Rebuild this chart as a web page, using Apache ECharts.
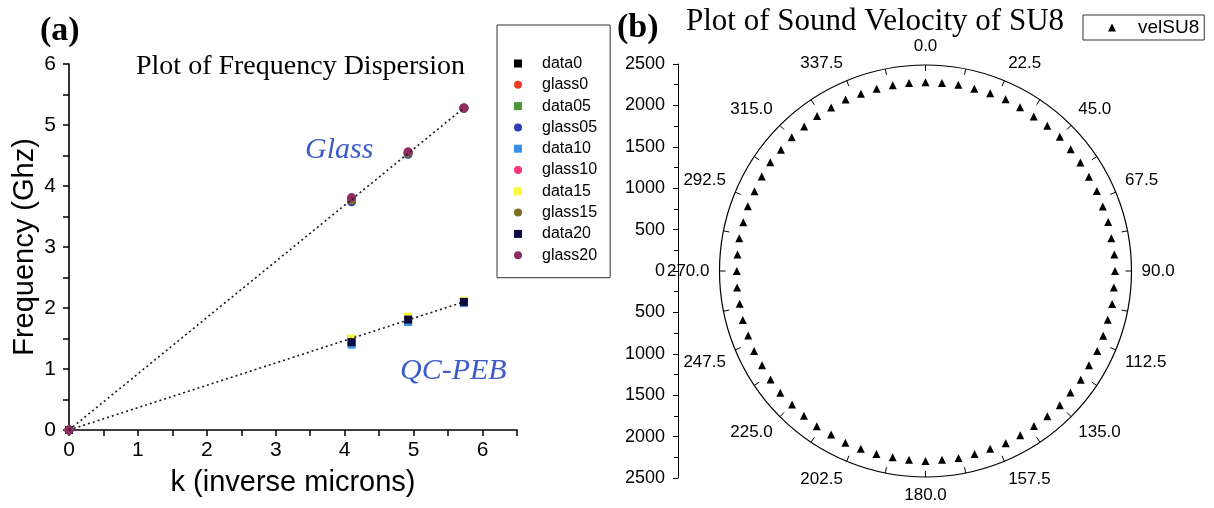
<!DOCTYPE html>
<html>
<head>
<meta charset="utf-8">
<script src="https://cdn.jsdelivr.net/npm/echarts@6/dist/echarts.min.js"></script>
<style>
  html, body { margin: 0; padding: 0; background: #ffffff; }
  #chart { width: 1214px; height: 508px; }
</style>
</head>
<body>
<div id="chart"></div>
<script>
// ---- (a) frequency dispersion: wavenumber k (1/um) vs frequency (GHz) ----
const k = [0, 4.1, 4.92, 5.73];

const data0  = [0, 1.44, 1.81, 2.10];
const data05 = [0, 1.49, 1.83, 2.11];
const data10 = [0, 1.40, 1.77, 2.08];
const data15 = [0, 1.50, 1.86, 2.12];
const data20 = [0, 1.44, 1.81, 2.10];

const glass0  = [0, 3.79, 4.55, 5.28];
const glass05 = [0, 3.74, 4.52, 5.27];
const glass10 = [0, 3.78, 4.55, 5.28];
const glass15 = [0, 3.77, 4.54, 5.28];
const glass20 = [0, 3.81, 4.56, 5.28];

// linear fits through the origin
const fitK = [0, 5.73];
const glassFit = [0, 5.28];
const qcFit = [0, 2.10];

const xTicks = [0, 1, 2, 3, 4, 5, 6];
const yTicks = [0, 1, 2, 3, 4, 5, 6];

// ---- (b) sound velocity of SU8 vs propagation angle (deg) ----
const angles = [
  0, 5, 10, 15, 20, 25, 30, 35, 40, 45, 50, 55,
  60, 65, 70, 75, 80, 85, 90, 95, 100, 105, 110, 115,
  120, 125, 130, 135, 140, 145, 150, 155, 160, 165, 170, 175,
  180, 185, 190, 195, 200, 205, 210, 215, 220, 225, 230, 235,
  240, 245, 250, 255, 260, 265, 270, 275, 280, 285, 290, 295,
  300, 305, 310, 315, 320, 325, 330, 335, 340, 345, 350, 355
];
const velSU8 = [
  2290, 2290, 2295, 2290, 2295, 2300, 2295, 2290, 2300, 2305, 2300, 2295,
  2290, 2295, 2290, 2295, 2290, 2300, 2300, 2295, 2300, 2290, 2295, 2300,
  2290, 2300, 2295, 2305, 2300, 2295, 2300, 2305, 2295, 2300, 2305, 2300,
  2305, 2300, 2295, 2300, 2295, 2300, 2290, 2300, 2295, 2290, 2300, 2295,
  2290, 2295, 2290, 2295, 2290, 2295, 2290, 2290, 2295, 2290, 2295, 2290,
  2295, 2300, 2290, 2295, 2290, 2295, 2290, 2295, 2290, 2290, 2290, 2290
];
const angleLabels = ['0.0', '22.5', '45.0', '67.5', '90.0', '112.5', '135.0', '157.5',
                     '180.0', '202.5', '225.0', '247.5', '270.0', '292.5', '315.0', '337.5'];

const SANS = '"Liberation Sans", Arial, sans-serif';
const SERIF = '"Liberation Serif", "Times New Roman", serif';

const pointSeries = [
  { name: 'data0',   v: data0,   color: '#000000', symbol: 'rect' },
  { name: 'glass0',  v: glass0,  color: '#f03a22', symbol: 'circle' },
  { name: 'data05',  v: data05,  color: '#4a9a3a', symbol: 'rect' },
  { name: 'glass05', v: glass05, color: '#2e3db4', symbol: 'circle' },
  { name: 'data10',  v: data10,  color: '#3a90e6', symbol: 'rect' },
  { name: 'glass10', v: glass10, color: '#fa3478', symbol: 'circle' },
  { name: 'data15',  v: data15,  color: '#f8f83a', symbol: 'rect' },
  { name: 'glass15', v: glass15, color: '#7c6e22', symbol: 'circle' },
  { name: 'data20',  v: data20,  color: '#0c0c44', symbol: 'rect' },
  { name: 'glass20', v: glass20, color: '#8e2e60', symbol: 'circle' }
];

const zip = (xs, ys) => xs.map((x, i) => [x, ys[i]]);

const series = pointSeries.map(s => ({
  name: s.name,
  type: 'scatter',
  xAxisIndex: 0,
  yAxisIndex: 0,
  symbol: s.symbol,
  symbolSize: s.symbol === 'rect' ? 8 : 9,
  itemStyle: { color: s.color, opacity: 1 },
  data: zip(k, s.v),
  z: 2
}));

[glassFit, qcFit].forEach(fit => {
  series.push({
    type: 'line',
    xAxisIndex: 0,
    yAxisIndex: 0,
    symbol: 'none',
    silent: true,
    lineStyle: { color: '#1a1a1a', width: 1.6, type: [2, 3] },
    data: zip(fitK, fit),
    z: 3
  });
});

series.push({
  name: 'velSU8',
  type: 'scatter',
  coordinateSystem: 'polar',
  symbol: 'triangle',
  symbolSize: 8,
  itemStyle: { color: '#000000', opacity: 1 },
  data: velSU8.map((v, i) => [v, angles[i]])
});

const axisBlack = { lineStyle: { color: '#000', width: 1.6 } };

const option = {
  animation: false,
  backgroundColor: '#ffffff',
  grid: [
    { left: 69, top: 64, width: 448, height: 366 },
    { left: 678, top: 64, width: 1, height: 414 }
  ],
  xAxis: [
    {
      gridIndex: 0, type: 'value', min: 0, max: 6.5, interval: 0.5,
      axisLine: axisBlack,
      axisTick: { length: 6, lineStyle: { color: '#000', width: 1.5 } },
      axisLabel: {
        margin: 10, color: '#000', fontFamily: SANS, fontSize: 21,
        formatter: v => (xTicks.indexOf(v) >= 0 ? String(v) : '')
      },
      splitLine: { show: false },
      name: 'k (inverse microns)', nameLocation: 'middle', nameGap: 38,
      nameTextStyle: { color: '#000', fontFamily: SANS, fontSize: 29 }
    },
    { gridIndex: 1, type: 'value', show: false }
  ],
  yAxis: [
    {
      gridIndex: 0, type: 'value', min: 0, max: 6, interval: 0.5,
      axisLine: axisBlack,
      axisTick: { length: 6, lineStyle: { color: '#000', width: 1.5 } },
      axisLabel: {
        margin: 13, color: '#000', fontFamily: SANS, fontSize: 21,
        formatter: v => (yTicks.indexOf(v) >= 0 ? String(v) : '')
      },
      splitLine: { show: false },
      name: 'Frequency (Ghz)', nameLocation: 'middle', nameGap: 30,
      nameTextStyle: { color: '#000', fontFamily: SANS, fontSize: 29 }
    },
    {
      // radial scale of the polar plot, drawn as a vertical ruler
      gridIndex: 1, type: 'value', min: -2500, max: 2500, interval: 500,
      axisLine: { lineStyle: { color: '#000', width: 1 } },
      axisTick: { length: 5, lineStyle: { color: '#000', width: 1 } },
      minorTick: { show: true, splitNumber: 2, length: 4, lineStyle: { color: '#000', width: 1 } },
      axisLabel: {
        margin: 13, color: '#000', fontFamily: SANS, fontSize: 18,
        formatter: v => String(Math.abs(v))
      },
      splitLine: { show: false }
    }
  ],
  polar: { center: [925.5, 271], radius: 206 },
  angleAxis: {
    type: 'value', min: 0, max: 360, interval: 11.25,
    startAngle: 90, clockwise: true,
    axisLine: { lineStyle: { color: '#000', width: 1.2 } },
    axisTick: { inside: true, length: 6, lineStyle: { color: '#000', width: 1 } },
    axisLabel: {
      margin: 10, color: '#000', fontFamily: SANS, fontSize: 17,
      formatter: v => {
        const i = Math.round(v / 22.5);
        return (Math.abs(i * 22.5 - v) < 1e-6 && i < 16) ? angleLabels[i] : '';
      }
    },
    splitLine: { show: false }
  },
  radiusAxis: { type: 'value', min: 0, max: 2500, show: false },
  legend: [
    {
      data: pointSeries.map(s => s.name),
      orient: 'vertical',
      left: 497, top: 25,
      padding: [30.5, 13, 14.5, 17],
      itemWidth: 8, itemHeight: 8, itemGap: 5.3,
      borderColor: '#333', borderWidth: 1,
      selectedMode: false,
      textStyle: { color: '#000', fontFamily: SANS, fontSize: 16, lineHeight: 15, padding: [0, 0, 0, 15] }
    },
    {
      data: ['velSU8'],
      left: 1083, top: 15,
      padding: [3, 5, 3, 25],
      itemWidth: 8, itemHeight: 8,
      borderColor: '#333', borderWidth: 1,
      selectedMode: false,
      textStyle: { color: '#000', fontFamily: SANS, fontSize: 19, lineHeight: 18, padding: [0, 0, 0, 17] }
    }
  ],
  graphic: [
    { type: 'text', left: 40, top: 14, style: { text: '(a)', fill: '#000', font: 'bold 34px ' + SERIF } },
    { type: 'text', left: 617, top: 11, style: { text: '(b)', fill: '#000', font: 'bold 34px ' + SERIF } },
    { type: 'text', left: 136, top: 53, style: { text: 'Plot of Frequency Dispersion', fill: '#000', font: '28px ' + SERIF } },
    { type: 'text', left: 686, top: 6, style: { text: 'Plot of Sound Velocity of SU8', fill: '#000', font: '31px ' + SERIF } },
    { type: 'text', left: 305, top: 135, style: { text: 'Glass', fill: '#3d5cc8', font: 'italic 30px ' + SERIF } },
    { type: 'text', left: 400, top: 356, style: { text: 'QC-PEB', fill: '#3d5cc8', font: 'italic 30px ' + SERIF } }
  ],
  series: series
};

const chart = echarts.init(document.getElementById('chart'), null, { renderer: 'canvas' });
chart.setOption(option);
</script>
</body>
</html>
